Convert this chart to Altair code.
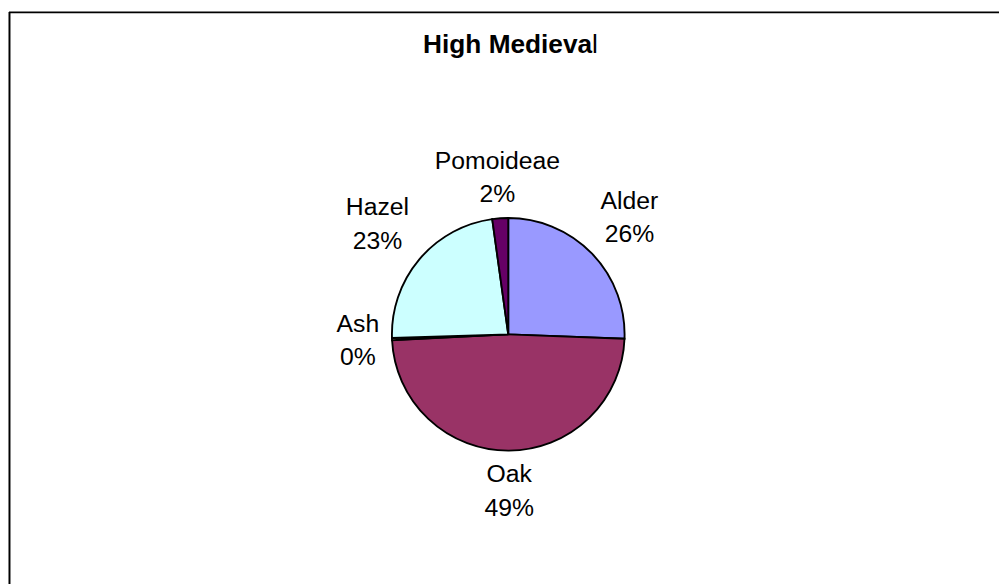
import altair as alt
import pandas as pd

names = ["Alder", "Oak", "Ash", "Hazel", "Pomoideae"]
values = [25.6, 48.6, 0.3, 23.3, 2.2]
colors = ["#9999FF", "#993366", "#FFFFCC", "#CCFFFF", "#660066"]
title_main = "High Medieva"
title_tail = "l"

df = pd.DataFrame({"name": names, "value": values, "idx": list(range(len(names)))})

CX, CY, R = 504.3, 325.7, 117.5
FONT = "Liberation Sans"

color = alt.Color("name:N", scale=alt.Scale(domain=names, range=colors), legend=None)

arcs = alt.Chart(df).mark_arc(outerRadius=R, stroke="black", strokeWidth=1.9).encode(
    theta=alt.Theta("value:Q", stack=True),
    order=alt.Order("idx:Q"),
    color=color,
    x=alt.value(CX),
    y=alt.value(CY),
)

labels = alt.Chart(df).transform_joinaggregate(
    total="sum(value)"
).transform_window(
    cum="sum(value)", sort=[alt.SortField("idx")], frame=[None, 0]
).transform_calculate(
    mid="(datum.cum - datum.value/2)/datum.total*2*PI",
    pct="format(datum.value/datum.total, '.0%')",
).transform_calculate(
    label="datum.name + '\\n' + datum.pct",
    lr="132.5 + min(length(datum.name)*6.5/max(abs(sin(datum.mid)), 0.001), 26/max(abs(cos(datum.mid)), 0.001))",
).mark_text(
    font=FONT, fontSize=25, lineBreak="\n", lineHeight=34, dy=-17,
    align="center", baseline="middle", color="black"
).encode(
    theta=alt.Theta("mid:Q", scale=None, stack=False),
    radius=alt.Radius("lr:Q", scale=None),
    text="label:N",
    x=alt.value(CX),
    y=alt.value(CY),
)

one = alt.Chart(pd.DataFrame({"t": [title_main], "u": [title_tail]}))
t1 = one.mark_text(font=FONT, fontSize=26.5, fontWeight="bold", align="right",
                   baseline="alphabetic", color="black").encode(
    text="t:N", x=alt.value(589), y=alt.value(41.3))
t2 = one.mark_text(font=FONT, fontSize=26.5, fontWeight="normal", align="left",
                   baseline="alphabetic", color="black").encode(
    text="u:N", x=alt.value(589), y=alt.value(41.3))

top_rule = one.mark_rule(color="black", strokeWidth=2).encode(
    x=alt.value(0), x2=alt.value(1000), y=alt.value(0.5))
left_rule = one.mark_rule(color="black", strokeWidth=2).encode(
    x=alt.value(0.5), y=alt.value(0), y2=alt.value(578))

chart = alt.layer(top_rule, left_rule, arcs, labels, t1, t2).properties(
    width=1000, height=578, padding=0, background="white"
).configure_view(stroke=None)

chart.save("out.html", embed_options={"renderer": "svg", "actions": False})
